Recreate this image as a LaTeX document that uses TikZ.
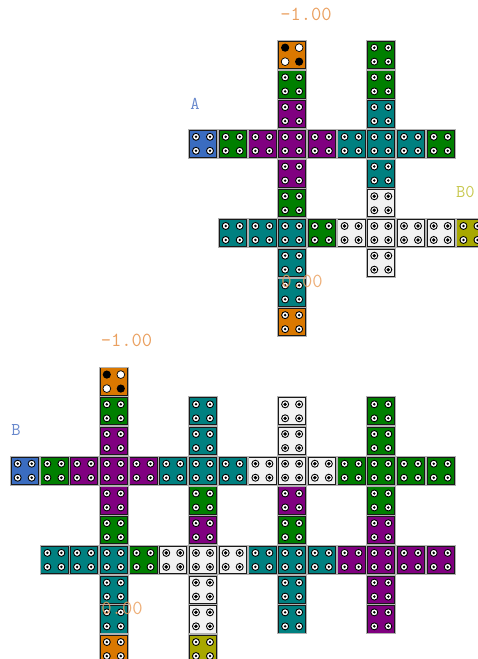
\documentclass[tikz,border=0pt]{standalone}
\usepackage{fontspec}
\definecolor{cOr}{HTML}{DA7800}
\definecolor{cGr}{HTML}{007F00}
\definecolor{cPu}{HTML}{800080}
\definecolor{cTe}{HTML}{008080}
\definecolor{cBl}{HTML}{3A6CC0}
\definecolor{cWh}{HTML}{F2F2F2}
\definecolor{cOl}{HTML}{A8A800}
\definecolor{lOr}{HTML}{EAA060}
\definecolor{lBl}{HTML}{6888CC}
\definecolor{lOl}{HTML}{C8C850}
\tikzset{
  tilebox/.style={draw=black!90, line width=0.9pt, minimum size=27.3pt, inner sep=0pt, outer sep=0pt},
  numlbl/.style={inner sep=0pt, text=lOr, font=\ttfamily\fontsize{20}{20}\selectfont},
  letlbl/.style={inner sep=0pt, font=\ttfamily\fontsize{18}{18}\selectfont},
}
% #1 centre-dot radius, #2 column, #3 row, #4 colour
\newcommand\tl[4][1.4]{%
  \node[tilebox, fill=#4] (t#2-#3) at ({24.65+29.72*#2},{54.65+29.72*#3}) {};
  \begin{scope}[shift={(t#2-#3.center)}]
    \draw[black!30, line width=0.7pt] (-14.5,-14.5) rectangle (14.5,14.5);
    \foreach \dx/\dy in {-7/-7,7/-7,-7/7,7/7}{
      \filldraw[fill=white, draw=black, line width=0.9pt] (\dx,\dy) circle[radius=3.5];
      \fill[black] (\dx,\dy) circle[radius=#1];}
  \end{scope}}
\newcommand\spt[2]{%
  \node[tilebox, fill=cOr] (t#1-#2) at ({24.65+29.72*#1},{54.65+29.72*#2}) {};
  \begin{scope}[shift={(t#1-#2.center)}]
    \draw[black!30, line width=0.7pt] (-14.5,-14.5) rectangle (14.5,14.5);
    \fill[black] (-7,-7) circle[radius=4.1];
    \fill[black] (7,7) circle[radius=4.1];
    \filldraw[fill=white, draw=black, line width=0.7pt] (7,-7) circle[radius=3.9];
    \filldraw[fill=white, draw=black, line width=0.7pt] (-7,7) circle[radius=3.9];
  \end{scope}}
\begin{document}
\begin{tikzpicture}[x=1pt, y=-1pt]
\useasboundingbox (0,0) rectangle (477,659);
% ---------- upper arrangement ----------
\spt{9}{0}
\tl{9}{1}{cGr}\tl{9}{2}{cPu}\tl{9}{3}{cPu}\tl{9}{4}{cPu}\tl{9}{5}{cGr}
\tl{9}{6}{cTe}\tl{9}{7}{cTe}\tl{9}{8}{cTe}\tl{9}{9}{cOr}
\tl{6}{3}{cBl}\tl{7}{3}{cGr}\tl{8}{3}{cPu}\tl{10}{3}{cPu}
\tl{11}{3}{cTe}\tl{12}{3}{cTe}\tl{13}{3}{cTe}\tl{14}{3}{cGr}
\tl{12}{0}{cGr}\tl{12}{1}{cGr}\tl{12}{2}{cTe}\tl{12}{4}{cTe}
\tl[1.9]{12}{5}{cWh}\tl[1.9]{12}{6}{cWh}\tl[1.9]{12}{7}{cWh}
\tl{7}{6}{cTe}\tl{8}{6}{cTe}\tl{10}{6}{cGr}\tl[1.9]{11}{6}{cWh}
\tl[1.9]{13}{6}{cWh}\tl[1.9]{14}{6}{cWh}\tl{15}{6}{cOl}
% ---------- lower arrangement ----------
\spt{3}{11}
\tl{3}{12}{cGr}\tl{3}{13}{cPu}\tl{3}{14}{cPu}\tl{3}{15}{cPu}\tl{3}{16}{cGr}
\tl{3}{17}{cTe}\tl{3}{18}{cTe}\tl{3}{19}{cTe}\tl{3}{20}{cOr}
\tl{6}{12}{cTe}\tl{6}{13}{cTe}\tl{6}{14}{cTe}\tl{6}{15}{cGr}\tl{6}{16}{cPu}
\tl[1.9]{6}{17}{cWh}\tl[1.9]{6}{18}{cWh}\tl[1.9]{6}{19}{cWh}\tl{6}{20}{cOl}
\tl[1.9]{9}{12}{cWh}\tl[1.9]{9}{13}{cWh}\tl[1.9]{9}{14}{cWh}\tl{9}{15}{cPu}\tl{9}{16}{cGr}
\tl{9}{17}{cTe}\tl{9}{18}{cTe}\tl{9}{19}{cTe}
\tl{12}{12}{cGr}\tl{12}{13}{cGr}\tl{12}{14}{cGr}\tl{12}{15}{cGr}\tl{12}{16}{cPu}
\tl{12}{17}{cPu}\tl{12}{18}{cPu}\tl{12}{19}{cPu}
\tl{0}{14}{cBl}\tl{1}{14}{cGr}\tl{2}{14}{cPu}\tl{4}{14}{cPu}\tl{5}{14}{cTe}
\tl{7}{14}{cTe}\tl[1.9]{8}{14}{cWh}\tl[1.9]{10}{14}{cWh}
\tl{11}{14}{cGr}\tl{13}{14}{cGr}\tl{14}{14}{cGr}
\tl{1}{17}{cTe}\tl{2}{17}{cTe}\tl{4}{17}{cGr}\tl[1.9]{5}{17}{cWh}\tl[1.9]{7}{17}{cWh}
\tl{8}{17}{cTe}\tl{10}{17}{cTe}\tl{11}{17}{cPu}\tl{13}{17}{cPu}\tl{14}{17}{cPu}
% ---------- labels ----------
\node[numlbl] (l1) at (306,14.5) {-1.00};
\node[numlbl, opacity=0.85] (l2) at (302,281) {0.00};
\node[letlbl, text=lBl] (l3) at (195,104) {A};
\node[letlbl, text=lOl, anchor=west] (l4) at (456,192) {B0};
\node[numlbl] (l5) at (126.5,340.5) {-1.00};
\node[numlbl, opacity=0.85] (l6) at (122,608) {0.00};
\node[letlbl, text=lBl] (l7) at (16,430) {B};
\end{tikzpicture}
\end{document}
